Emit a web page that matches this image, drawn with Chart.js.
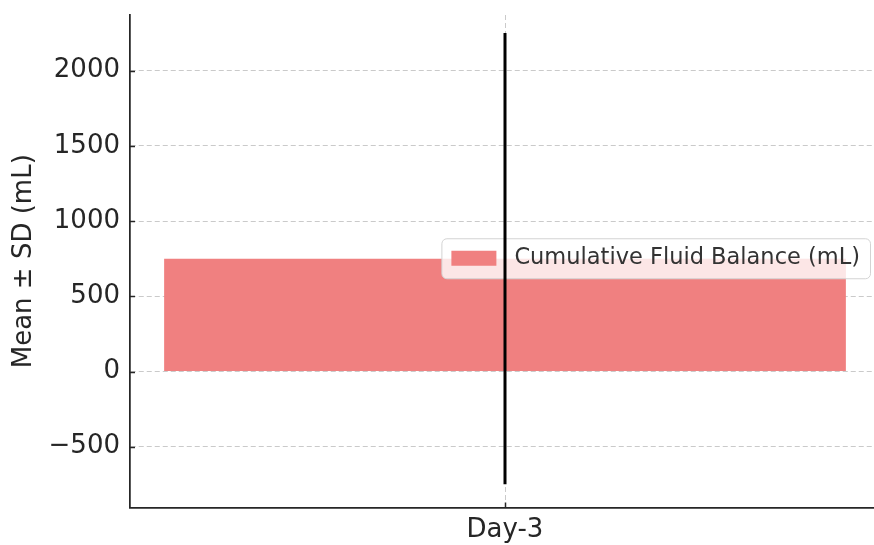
<!DOCTYPE html>
<html>
<head>
<meta charset="utf-8">
<script src="https://cdn.jsdelivr.net/npm/chart.js@4.4.1/dist/chart.umd.min.js"></script>
<style>
  html, body { margin: 0; padding: 0; background: #ffffff; overflow: hidden; }
  #wrap { position: relative; width: 884px; height: 545px; }
</style>
</head>
<body>
<div id="wrap"><canvas id="chart"></canvas></div>
<script>
// Data
const categories = ['Day-3'];
const seriesLabel = 'Cumulative Fluid Balance (mL)';
const meanValues = [750];
const sdValues = [1500];
const yTickValues = [-500, 0, 500, 1000, 1500, 2000];
const yMin = -904;
const yMax = 2370;

const FONT = "'DejaVu Sans', sans-serif";
const INK = '#262626';
const BAR_COLOR = '#F08080';

// Inward tick marks, legend box and SD whiskers drawn on top of the plot
const overlay = {
  id: 'overlay',
  afterDraw(chart) {
    const ctx = chart.ctx;
    const area = chart.chartArea;
    const xs = chart.scales.x;
    const ys = chart.scales.y;

    // inward ticks
    ctx.save();
    ctx.strokeStyle = INK;
    ctx.lineWidth = 1.5;
    ys.ticks.forEach(t => {
      const py = Math.round(ys.getPixelForValue(t.value)) + 0.5;
      ctx.beginPath();
      ctx.moveTo(area.left, py);
      ctx.lineTo(area.left + 5, py);
      ctx.stroke();
    });
    categories.forEach((c, i) => {
      const px = Math.round(xs.getPixelForValue(i)) + 0.5;
      ctx.beginPath();
      ctx.moveTo(px, area.bottom);
      ctx.lineTo(px, area.bottom - 5);
      ctx.stroke();
    });
    ctx.restore();

    // legend (center right)
    ctx.save();
    ctx.font = '22.5px ' + FONT;
    const tw = ctx.measureText(seriesLabel).width;
    const padX = 10, patchW = 45, patchH = 15, gap = 18, boxH = 40;
    const boxW = padX + patchW + gap + tw + padX;
    const bx = area.right - 10 - boxW;
    const cy = (area.top + area.bottom) / 2 - 3;
    const by = cy - boxH / 2;
    ctx.beginPath();
    ctx.roundRect(bx + 0.5, by + 0.5, boxW, boxH, 5);
    ctx.fillStyle = 'rgba(255,255,255,0.8)';
    ctx.fill();
    ctx.strokeStyle = '#d3d3d3';
    ctx.lineWidth = 1;
    ctx.stroke();
    ctx.fillStyle = BAR_COLOR;
    ctx.fillRect(bx + padX, cy - patchH / 2, patchW, patchH);
    ctx.fillStyle = '#333333';
    ctx.textBaseline = 'middle';
    ctx.textAlign = 'left';
    ctx.fillText(seriesLabel, bx + padX + patchW + gap, cy);
    ctx.restore();

    // SD whiskers
    ctx.save();
    ctx.strokeStyle = '#000000';
    ctx.lineWidth = 3;
    meanValues.forEach((m, i) => {
      const px = xs.getPixelForValue(i);
      ctx.beginPath();
      ctx.moveTo(px, ys.getPixelForValue(m - sdValues[i]));
      ctx.lineTo(px, ys.getPixelForValue(m + sdValues[i]));
      ctx.stroke();
    });
    ctx.restore();
  }
};

new Chart(document.getElementById('chart'), {
  type: 'bar',
  data: {
    labels: categories,
    datasets: [{
      label: seriesLabel,
      data: meanValues,
      backgroundColor: BAR_COLOR,
      borderWidth: 0,
      barPercentage: 0.909,
      categoryPercentage: 1.0
    }]
  },
  options: {
    responsive: true,
    maintainAspectRatio: false,
    animation: false,
    devicePixelRatio: 1,
    layout: { padding: { top: 15, right: 4, left: 0, bottom: 0 } },
    plugins: {
      legend: { display: false },
      tooltip: { enabled: false }
    },
    scales: {
      x: {
        z: 1,
        offset: true,
        afterFit(scale) {
          scale.height = 37.5;
          scale.paddingLeft = 0;
          scale.paddingRight = 0;
        },
        grid: {
          offset: false,
          drawTicks: false,
          color: 'rgba(150,150,150,0.5)',
          lineWidth: 1
        },
        border: { display: true, color: INK, width: 1.75, dash: [5, 3] },
        ticks: {
          color: INK,
          padding: 7,
          maxRotation: 0,
          font: { family: FONT, size: 26 }
        }
      },
      y: {
        z: 1,
        min: yMin,
        max: yMax,
        afterFit(scale) {
          scale.width = 130;
          scale.paddingTop = 0;
          scale.paddingBottom = 0;
        },
        afterBuildTicks(scale) {
          scale.ticks = yTickValues.map(v => ({ value: v }));
        },
        grid: {
          drawTicks: false,
          color: 'rgba(150,150,150,0.5)',
          lineWidth: 1
        },
        border: { display: true, color: INK, width: 1.75, dash: [5, 3] },
        ticks: {
          color: INK,
          padding: 10,
          font: { family: FONT, size: 26 },
          callback: v => String(v).replace('-', '\u2212')
        },
        title: {
          display: true,
          text: 'Mean \u00B1 SD (mL)',
          color: INK,
          padding: { top: 9, bottom: 0 },
          font: { family: FONT, size: 26 }
        }
      }
    }
  },
  plugins: [overlay]
});
</script>
</body>
</html>
